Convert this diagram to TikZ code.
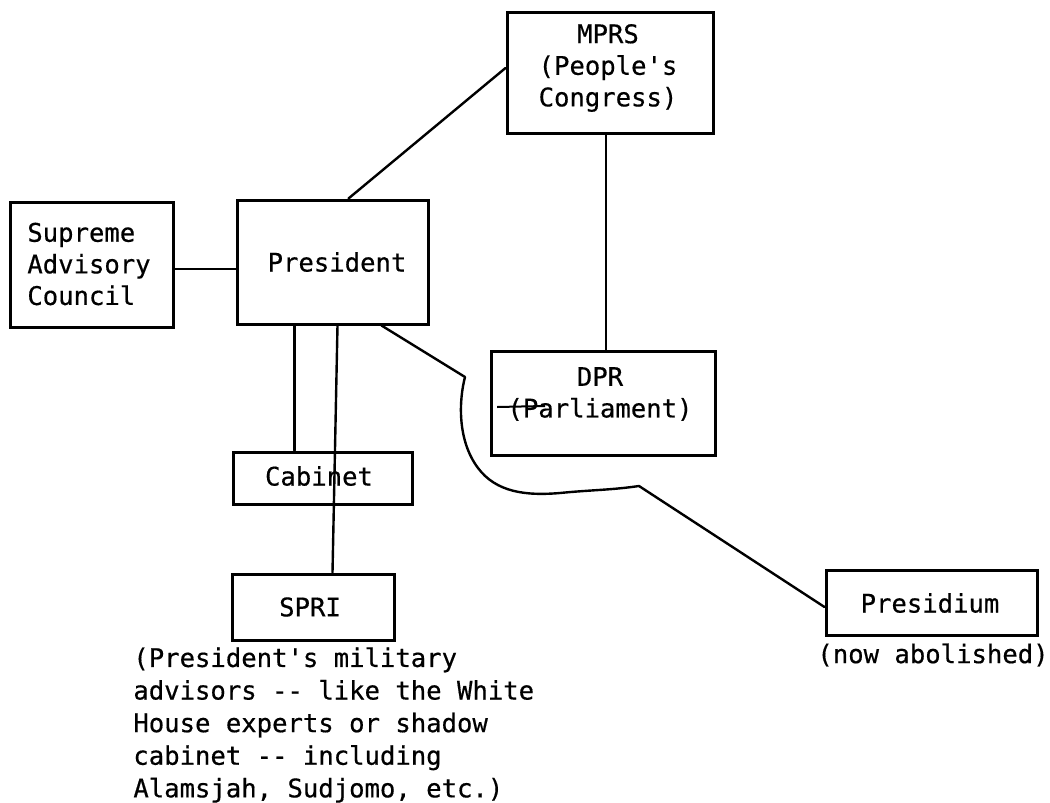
\documentclass[tikz,border=0pt]{standalone}
\usepackage{fontspec}
\setmonofont[FakeBold=0.5]{DejaVu Sans Mono}
\usetikzlibrary{calc}
\begin{document}
\begin{tikzpicture}[x=0.5pt,y=-0.5pt,
  box/.style={draw, line width=1.5pt, rectangle, inner sep=0pt},
  txt/.style={font=\ttfamily\fontsize{12.8}{15.8}\selectfont, inner sep=0pt, align=center},
  link/.style={line width=1.2pt, line join=round, line cap=round}]
\fill[white] (0,0) rectangle (1050,803);
\useasboundingbox (0,0) rectangle (1050,803);

% boxes
\node[box, minimum width=103pt, minimum height=60.5pt] (mprs) at (610,72.5) {};
\node[box, minimum width=81.5pt, minimum height=62.5pt] (sac) at (91.5,264.5) {};
\node[box, minimum width=95.5pt, minimum height=62pt] (pres) at (332.5,262) {};
\node[box, minimum width=112pt, minimum height=52pt] (dpr) at (603,403) {};
\node[box, minimum width=89.5pt, minimum height=26pt] (cab) at (322.5,478) {};
\node[box, minimum width=81pt, minimum height=33pt] (spri) at (313,607) {};
\node[box, minimum width=105.5pt, minimum height=32.5pt] (presid) at (931.5,602.5) {};

% texts
\node[txt] (mprst) at (608,68) {MPRS\\(People's\\Congress)};
\node[txt, align=left] (sact) at (89,264) {Supreme\\Advisory\\Council};
\node[txt] (prest) at (337,262) {President};
\node[txt] (dprt) at (600,394) {DPR\\(Parliament)};
\node[txt] (cabt) at (319,476) {Cabinet};
\node[txt] (sprit) at (310,607) {SPRI};
\node[txt] (presidt) at (930,603) {Presidium};
\node[txt] (abol) at (933,655) {(now abolished)};
\node[txt, align=left, anchor=west, font=\ttfamily\fontsize{12.8}{16.3}\selectfont] (cap) at (133,725)
  {(President's military\\advisors -- like the White\\House experts or shadow\\cabinet -- including\\Alamsjah, Sudjomo, etc.)};

% strike mark over "(Par"
\draw[line width=1pt] ($(dprt.west)+(-10,13)$) -- ($(dprt.west)+(38,12)$);

% connectors
\draw[link] ($(sac.east)+(0,4.5)$) -- ($(sac.east -| pres.west)+(0,4.5)$);
\draw[link] ($(pres.north west)+(113,0)$) -- ($(mprs.west)+(0,-4.5)$);
\draw[link] ($(mprs.south)+(-4,0)$) -- ($(dpr.north)+(3,0)$);
\draw[link] ($(pres.south west)+(59,0)$) -- ($(cab.north west)+(63,0)$);
\draw[link] ($(pres.south west)+(102,0)$) -- ($(spri.north west)+(102,0)$);
\coordinate (bendA) at (465,377);
\coordinate (bendB) at (639,486);
\draw[link] ($(pres.south west)+(146,0)$) -- (bendA)
  .. controls (459,400) and (457,440) .. (478,468)
  .. controls (496,492) and (525,496) .. (560,493)
  .. controls (590,490) and (612,490) .. (bendB)
  -- ($(presid.west)+(0,4.5)$);
\end{tikzpicture}
\end{document}
